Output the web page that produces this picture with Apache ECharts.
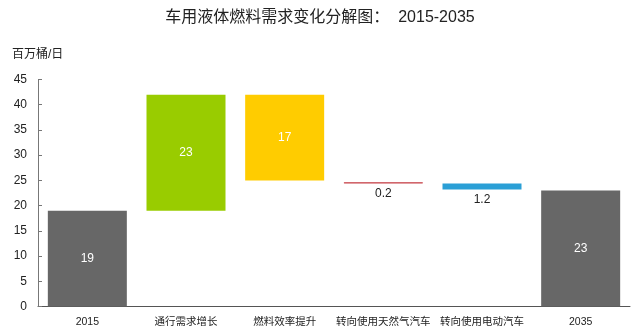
<!DOCTYPE html>
<html>
<head>
<meta charset="utf-8">
<style>
  html, body { margin: 0; padding: 0; background: #fff; }
  #chart { width: 640px; height: 329px; }
</style>
<script src="https://cdn.jsdelivr.net/npm/echarts@6/dist/echarts.min.js"></script>
</head>
<body>
<div id="chart"></div>
<script>
// Waterfall of road liquid fuel demand change, 2015 → 2035 (million barrels/day)
const categories = ['2015', '通行需求增长', '燃料效率提升', '转向使用天然气汽车', '转向使用电动汽车', '2035'];
// size of each step
const stepValues = [19, 23, 17, 0.2, 1.2, 23];
// invisible floor each step sits on
const floorValues = [0, 19, 25, 24.4, 23.2, 0];
const stepColors = ['#676767', '#99cc00', '#ffcc00', '#c0262e', '#2a9fd6', '#676767'];
const yTicks = [0, 5, 10, 15, 20, 25, 30, 35, 40, 45];

const FONT = '"Liberation Sans", Arial, "Noto Sans CJK SC", sans-serif';

const chart = echarts.init(document.getElementById('chart'), null, { renderer: 'canvas' });

const stepData = stepValues.map((v, i) => {
  const small = v < 5;
  const item = {
    value: v,
    itemStyle: { color: stepColors[i] },
    label: small
      ? { position: 'bottom', distance: 4, color: '#222' }
      : { position: 'inside', color: '#ffffff' }
  };
  // very thin steps get a hairline outline so they stay crisp
  if (v < 0.5) {
    item.itemStyle.borderColor = stepColors[i];
    item.itemStyle.borderWidth = 0.6;
  }
  return item;
});

chart.setOption({
  animation: false,
  backgroundColor: '#ffffff',
  title: [
    {
      text: '车用液体燃料需求变化分解图：  2015-2035',
      left: 'center',
      top: 5,
      textStyle: { fontFamily: FONT, fontSize: 16, fontWeight: 'normal', color: '#222' }
    },
    {
      text: '百万桶/日',
      left: 7,
      top: 44,
      textStyle: { fontFamily: FONT, fontSize: 12, fontWeight: 'normal', color: '#222' }
    }
  ],
  grid: { left: 38, top: 79.5, width: 592, height: 227, containLabel: false },
  xAxis: {
    type: 'category',
    data: categories,
    axisLine: { lineStyle: { color: '#555', width: 1 } },
    axisTick: { show: false },
    axisLabel: { fontFamily: FONT, fontSize: 10.5, color: '#222', margin: 10, interval: 0 }
  },
  yAxis: {
    type: 'value',
    min: yTicks[0],
    max: yTicks[yTicks.length - 1],
    interval: 5,
    axisLine: { show: true, lineStyle: { color: '#777', width: 1 } },
    axisTick: { show: true, inside: true, length: 4, lineStyle: { color: '#777' } },
    splitLine: { show: false },
    axisLabel: { fontFamily: FONT, fontSize: 12, color: '#222', margin: 11 }
  },
  series: [
    {
      name: 'floor',
      type: 'bar',
      stack: 'wf',
      data: floorValues,
      itemStyle: { color: 'transparent' },
      emphasis: { disabled: true },
      silent: true,
      barWidth: 79
    },
    {
      name: 'step',
      type: 'bar',
      stack: 'wf',
      data: stepData,
      barWidth: 79,
      label: {
        show: true,
        fontFamily: FONT,
        fontSize: 12,
        formatter: p => String(p.value)
      }
    }
  ]
});
</script>
</body>
</html>
